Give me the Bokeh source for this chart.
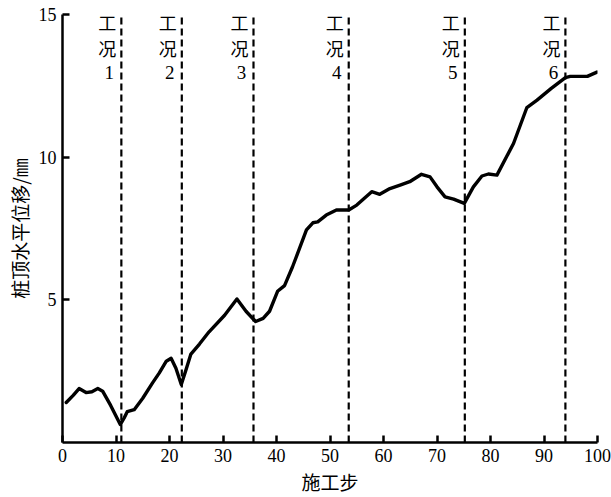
from bokeh.plotting import figure
from bokeh.models import Range1d, FixedTicker
from bokeh.core.properties import value
from bokeh.embed import file_html
from bokeh.resources import INLINE

# construction step vs pile-top horizontal displacement (mm)
steps = [0.7, 2.0, 3.1, 4.4, 5.5, 6.6, 7.5, 9.0, 10.8, 11.5, 12.1, 13.4, 15.0, 16.8,
         18.1, 19.4, 20.3, 21.2, 22.2, 23.0, 24.0, 25.6, 27.4, 30.3, 32.6, 34.3, 36.1,
         37.5, 38.7, 40.2, 41.5, 43.0, 44.3, 45.6, 46.8, 47.7, 49.3, 51.2, 53.5, 55.0,
         57.8, 59.3, 61.2, 63.1, 64.9, 67.1, 68.7, 70.0, 71.5, 73.1, 75.1, 76.8, 78.4,
         79.6, 81.2, 84.3, 86.8, 88.7, 91.3, 94.0, 94.9, 98.1, 99.9]
disp = [1.40, 1.65, 1.89, 1.75, 1.78, 1.89, 1.80, 1.30, 0.63, 0.85, 1.08, 1.15, 1.55, 2.08,
        2.44, 2.85, 2.95, 2.60, 2.03, 2.50, 3.10, 3.45, 3.88, 4.46, 5.03, 4.60, 4.24,
        4.35, 4.60, 5.30, 5.50, 6.16, 6.80, 7.45, 7.70, 7.73, 7.97, 8.15, 8.15, 8.32,
        8.79, 8.70, 8.90, 9.02, 9.14, 9.40, 9.31, 8.96, 8.61, 8.53, 8.38, 8.96, 9.34,
        9.41, 9.37, 10.48, 11.74, 12.00, 12.40, 12.79, 12.83, 12.83, 12.98]

case_steps = [11.0, 22.3, 35.7, 53.5, 75.2, 94.0]
case_names = ["1", "2", "3", "4", "5", "6"]

x_ticks = [0, 10, 20, 30, 40, 50, 60, 70, 80, 90, 100]
y_ticks = [5, 10, 15]
y_min, y_max = 0, 15

p = figure(width=611, height=497, output_backend="svg", toolbar_location=None,
           x_range=Range1d(0, 100), y_range=Range1d(y_min, y_max),
           min_border_left=62, min_border_right=14, min_border_top=14, min_border_bottom=54)
p.outline_line_color = None
p.grid.visible = False
p.background_fill_color = "white"
p.border_fill_color = "white"

tick_font = "Liberation Serif"
for ax in (p.xaxis[0], p.yaxis[0]):
    ax.major_tick_in = 7
    ax.major_tick_out = 0
    ax.minor_tick_in = 0
    ax.minor_tick_out = 0
    ax.axis_line_width = 2.5
    ax.major_tick_line_width = 2.5
    ax.axis_line_color = "black"
    ax.major_tick_line_color = "black"
    ax.major_label_text_font = tick_font
    ax.major_label_text_font_size = "18px"
    ax.major_label_text_color = "black"
    ax.axis_label_text_font = "Noto Sans CJK SC"
    ax.axis_label_text_font_style = "normal"
    ax.axis_label_text_font_size = "19px"
    ax.axis_label_text_color = "black"

p.xaxis.ticker = FixedTicker(ticks=x_ticks)
p.yaxis.ticker = FixedTicker(ticks=y_ticks)
p.xaxis.axis_label = "施工步"
p.yaxis.axis_label = "桩顶水平位移/㎜"
p.xaxis.major_label_standoff = 6
p.xaxis.axis_label_standoff = 3
p.yaxis.major_label_standoff = 6
p.yaxis.axis_label_standoff = 3

# construction-case dashed lines
p.segment(x0=case_steps, y0=[y_min] * len(case_steps), x1=case_steps,
          y1=[y_max] * len(case_steps), line_color="black", line_width=2.2,
          line_dash="7 4")

# displacement curve
p.line(steps, disp, line_color="black", line_width=3.4, line_join="round", line_cap="round")

# case labels stacked vertically
n = len(case_steps)
for txt, off in (("工", 7), ("况", 33)):
    p.text(x=case_steps, y=[y_max] * n, text=[txt] * n, x_offset=-14, y_offset=off,
           text_align="center", text_baseline="middle", text_color="black",
           text_font=value("Noto Sans CJK SC"), text_font_size="18px")
p.text(x=case_steps, y=[y_max] * n, text=case_names, x_offset=-12, y_offset=58,
       text_align="center", text_baseline="middle", text_color="black",
       text_font=value(tick_font), text_font_size="19px")

open("out.html", "w").write(file_html(p, INLINE))
